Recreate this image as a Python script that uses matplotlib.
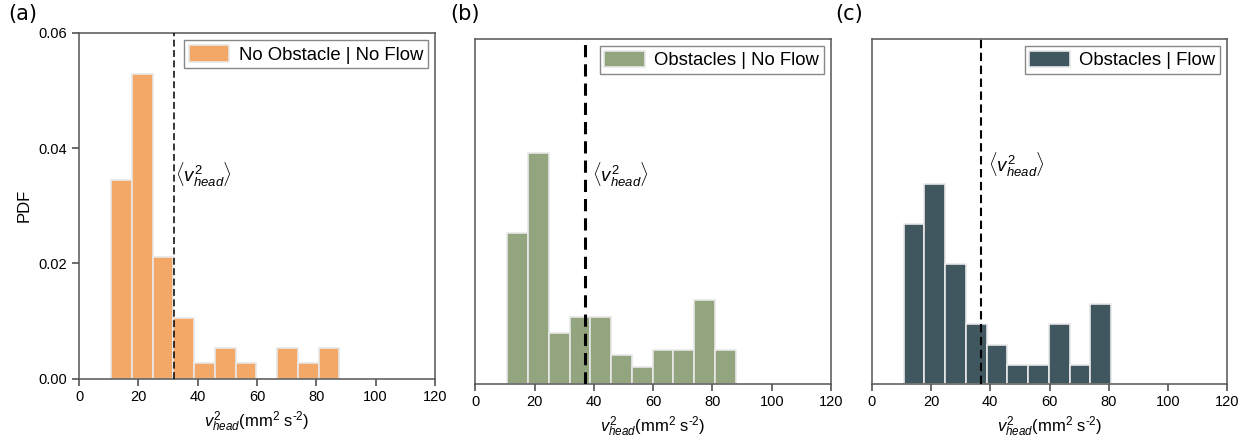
import matplotlib
matplotlib.use('Agg')
import matplotlib.pyplot as plt
import numpy as np

plt.rcParams['font.family'] = ['Liberation Sans', 'DejaVu Sans']
plt.rcParams['mathtext.fontset'] = 'custom'
plt.rcParams['mathtext.rm'] = 'Liberation Sans'
plt.rcParams['mathtext.it'] = 'Liberation Sans:italic'

# bin edges (mm^2 s^-2)
edges_a = [10.8, 17.8, 24.8, 31.8, 38.8, 45.8, 52.8, 59.8, 66.8, 73.8, 80.8, 87.8]
edges_b = [10.8, 17.8, 24.8, 31.8, 38.8, 45.8, 52.8, 59.8, 66.8, 73.8, 80.8, 87.8]
edges_c = [10.8, 17.8, 24.8, 31.8, 38.8, 45.8, 52.8, 59.8, 66.8, 73.8, 80.8]

# PDF values per bin
pdf_a = [0.0344, 0.0529, 0.0212, 0.0106, 0.00265, 0.0053, 0.00265, 0.0, 0.0053, 0.00265, 0.0053]
pdf_b = [0.0263, 0.0401, 0.0089, 0.01175, 0.01175, 0.0051, 0.00295, 0.0059, 0.0059, 0.0146, 0.0059]
pdf_c = [0.0278, 0.0348, 0.0208, 0.0104, 0.0069, 0.0034, 0.0034, 0.0104, 0.0034, 0.0139]

# mean <v^2_head> per panel
means = [32.1, 36.9, 36.9]

labels = ['No Obstacle | No Flow', 'Obstacles | No Flow', 'Obstacles | Flow']
colors = ['#F3A868', '#93A57E', '#41575F']
panel_tags = ['(a)', '(b)', '(c)']
xticks = [0, 20, 40, 60, 80, 100, 120]
yticks_a = [0.00, 0.02, 0.04, 0.06]

fig = plt.figure(figsize=(12.52, 4.4), dpi=100)
W, H = 1252, 440
# axes boxes in pixels: left, top, right, bottom
boxes = [(79, 33, 435, 378.7), (475.3, 38.7, 831, 384.3), (871.7, 38.7, 1227.3, 384.3)]
axes = [fig.add_axes([l / W, 1 - b / H, (r - l) / W, (b - t) / H]) for l, t, r, b in boxes]

edges_all = [edges_a, edges_b, edges_c]
pdf_all = [pdf_a, pdf_b, pdf_c]
line_w = [1.1, 2.2, 1.5]
line_dash = [(4.5, 2.3), (4.0, 2.3), (4.0, 2.2)]
text_y = [0.0353, 0.0363, 0.0381]
text_x = [32.3, 39.3, 39.3]
tag_x = [8, 450, 835]

for i, ax in enumerate(axes):
    e = np.array(edges_all[i])
    ax.bar(e[:-1], pdf_all[i], width=np.diff(e), align='edge', color=colors[i],
           edgecolor='#e8e8e8', linewidth=1.2, label=labels[i], zorder=2)
    ax.axvline(means[i], color='black', lw=line_w[i], linestyle=(0, line_dash[i]), zorder=3)
    ax.text(text_x[i], text_y[i], r'$\langle v^2_{head}\rangle$', fontsize=13.5,
            va='center', ha='left')
    ax.set_xlim(0, 120)
    ax.set_ylim(0, 0.06)
    ax.set_xticks(xticks)
    ax.tick_params(axis='x', direction='out', length=5, width=1.1, color='#444444',
                   labelsize=10.5, pad=3)
    for s in ax.spines.values():
        s.set_color('#555555')
        s.set_linewidth(1.1)
    ax.set_xlabel(r'$v^2_{head}$(mm$^2$ s$^{\text{-2}}$)', fontsize=12, labelpad=4)
    if i == 0:
        ax.set_yticks(yticks_a)
        ax.set_yticklabels(['%.2f' % v for v in yticks_a])
        ax.tick_params(axis='y', direction='out', length=5, width=1.1, color='#444444',
                       labelsize=10.5)
        ax.set_ylabel('PDF', fontsize=12, labelpad=5)
    else:
        ax.set_yticks([])
    leg = ax.legend(loc='upper right', fontsize=13.3, fancybox=False, framealpha=1,
                    edgecolor='#888888', handlelength=2.2, handleheight=1.0,
                    borderpad=0.25, handletextpad=0.5, borderaxespad=0.4)
    leg.get_frame().set_linewidth(1.0)
    fig.text(tag_x[i] / W, 1 - 4 / H, panel_tags[i], fontsize=15,
             family='DejaVu Sans', va='top', ha='left')

fig.savefig('out.png', dpi=100)
